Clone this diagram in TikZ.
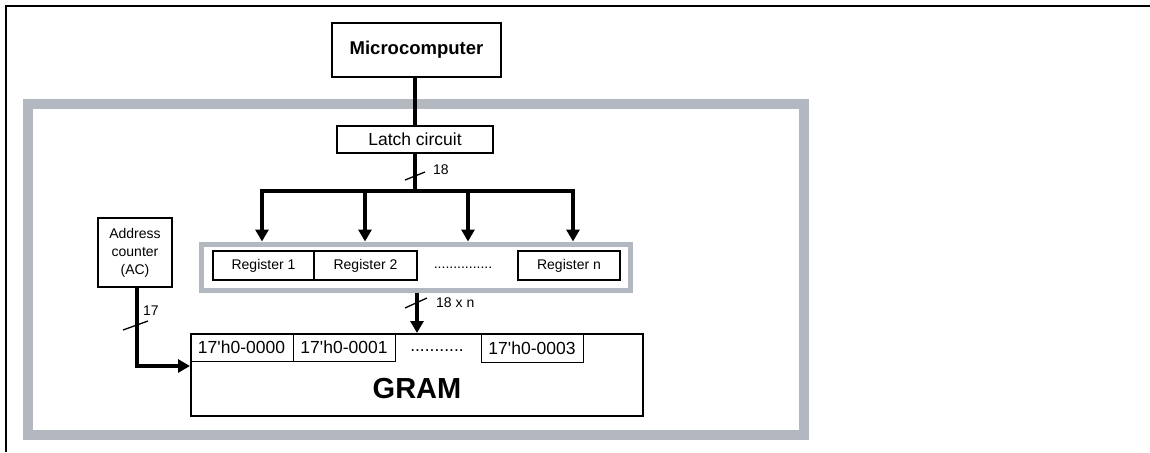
\documentclass[tikz,border=0pt]{standalone}
\usepackage{fontspec}
\setmainfont{Liberation Sans}
\usetikzlibrary{arrows.meta, positioning, calc}
\definecolor{framegray}{HTML}{B3B8C0}

\begin{document}
\begin{tikzpicture}[x=1pt, y=-1pt,
  box/.style={draw, line width=1.6pt, inner sep=0pt, align=center, font=\fontsize{14}{18}\selectfont},
  cell/.style={draw, line width=1pt, inner sep=0pt, outer sep=0pt, minimum height=28pt, font=\fontsize{17.5}{20}\selectfont},
  bus/.style={line width=4pt},
  busarrow/.style={bus, -{Triangle[length=12pt, width=13pt]}},
  slash/.style={line width=1.3pt},
  lbl/.style={inner sep=0pt, anchor=west, font=\fontsize{14}{16}\selectfont}
]
\useasboundingbox (0,0) rectangle (1150,452);
% page frame, top and left edge
\draw[line width=2pt] (5.7,452) -- (5.7,5.7) -- (1150,5.7);
% grey housing
\draw[framegray, line width=10pt] (28,104) rectangle (804,434.5);

\node[box, font=\bfseries\fontsize{18.5}{20}\selectfont, minimum width=169pt, minimum height=54pt] (micro) at (416.5,50) {Microcomputer};
\node[box, font=\fontsize{17.5}{20}\selectfont, minimum width=156pt, minimum height=27pt] (latch) at (415,139.5) {Latch circuit};
\node[box, minimum width=74pt, minimum height=69pt] (ac) at (135,252.5) {Address\\counter\\(AC)};

% register bank
\node[draw=framegray, line width=5pt, inner sep=0pt, minimum width=428.5pt, minimum height=46pt] (regs) at (415.75,267) {};
\node[box, outer sep=0pt, minimum width=101pt, minimum height=29pt] (reg1) at (263.5,265.5) {Register 1};
\node[box, outer sep=0pt, minimum width=103pt, minimum height=29pt, right=0pt of reg1] (reg2) {Register 2};
\node[lbl, anchor=center] (rdots) at (463,268) {...............};
\node[box, outer sep=0pt, minimum width=102pt, minimum height=29pt] (regn) at (569,265.5) {Register n};

% GRAM
\node[box, line width=2pt, minimum width=452pt, minimum height=82pt] (gram) at (417,375) {};
\node[font=\bfseries\fontsize{29}{30}\selectfont] (gramlbl) at (417,389) {GRAM};
\node[cell, minimum width=103pt, anchor=north west] (c0) at (gram.north west) {17\textquotesingle h0-0000};
\node[cell, minimum width=102pt, right=0pt of c0] (c1) {17\textquotesingle h0-0001};
\node[font=\fontsize{17.5}{20}\selectfont, inner sep=0pt] (gdots) at (437,351) {...........};
\node[cell, minimum width=102pt, anchor=north] (c3) at (532,334.5) {17\textquotesingle h0-0003};

% data path
\draw[bus] (latch.north |- micro.south) -- (latch.north);
\coordinate (busL) at (262,191);
\coordinate (busR) at (573,191);
\draw[bus] (latch.south) -- (latch.south |- busL);
\draw[bus, line cap=rect] (busL) -- (busR);
\foreach \x [count=\i] in {262,365,468,573} {
  \coordinate (b\i) at (\x,191);
  \draw[busarrow] (b\i) -- (b\i |- regs.north);
}
\draw[slash] (405,180) -- (425,172);
\node[lbl] (w18) at (433,170) {18};

\draw[busarrow] (gram.north |- regs.south) -- (gram.north);
\draw[slash] (405,308) -- (427,298);
\node[lbl] (w18n) at (436,303) {18 x n};

\draw[busarrow] ([xshift=2pt]ac.south) |- ([yshift=9pt]gram.west);
\draw[slash] (123,330) -- (148,321);
\node[lbl] (w17) at (143,311) {17};
\end{tikzpicture}
\end{document}
